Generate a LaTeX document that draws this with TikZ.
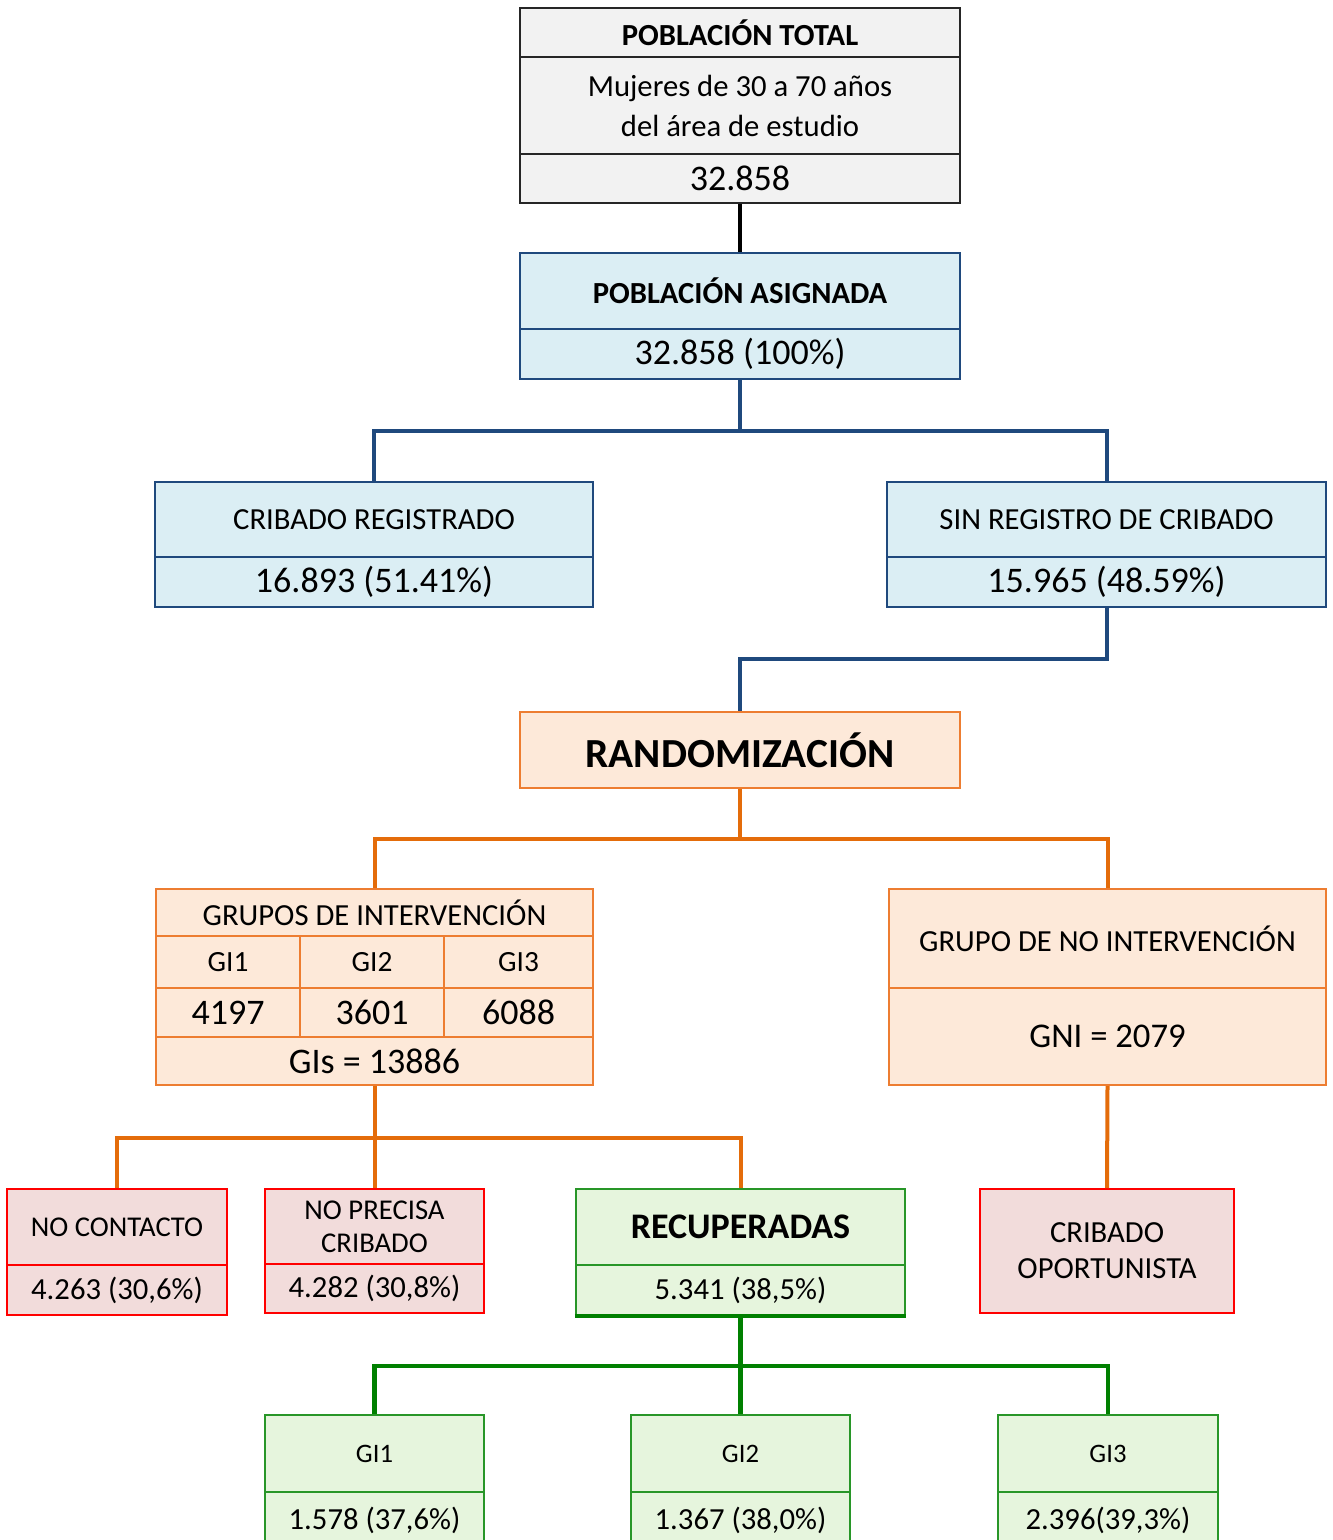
\documentclass[tikz,border=0pt]{standalone}
\usepackage{fontspec}
\setmainfont{Carlito}
\usepackage{tikz}
\usetikzlibrary{positioning, calc}
\newdimen\pxu \pxu=0.75pt
\definecolor{grayfill}{RGB}{242,242,242}
\definecolor{bluefill}{RGB}{219,238,244}
\definecolor{blueline}{RGB}{31,73,125}
\definecolor{orangefill}{RGB}{253,233,217}
\definecolor{orangeline}{RGB}{237,125,49}
\definecolor{orangelink}{RGB}{228,108,10}
\definecolor{redfill}{RGB}{242,220,219}
\definecolor{redline}{RGB}{255,0,0}
\definecolor{greenfill}{RGB}{230,245,221}
\definecolor{greenline}{RGB}{40,150,40}
\definecolor{greenlink}{RGB}{0,128,0}
\tikzset{
    sec_gray/.style={
        rectangle, draw=black!85, line width=1.5pt, fill=grayfill,
        inner sep=0pt, align=center, minimum width=440\pxu, font=\fontsize{23}{30}\selectfont
    },
    sec_blue/.style={
        rectangle, draw=blueline, line width=2pt, fill=bluefill,
        inner sep=0pt, align=center, font=\fontsize{23}{30}\selectfont
    },
    sec_orange/.style={
        rectangle, draw=orangeline, line width=1.6pt, fill=orangefill,
        inner sep=0pt, align=center, font=\fontsize{23}{30}\selectfont
    },
    sec_red/.style={
        rectangle, draw=redline, line width=1.4pt, fill=redfill,
        inner sep=0pt, align=center, font=\fontsize{23}{30}\selectfont
    },
    sec_green/.style={
        rectangle, draw=greenline, line width=1.6pt, fill=greenfill,
        inner sep=0pt, align=center, font=\fontsize{23}{30}\selectfont
    },
    num/.style={font=\fontsize{27}{30}\selectfont},
    link_black/.style={draw=black, line width=3.6pt},
    link_blue/.style={draw=blueline, line width=3pt, line join=miter},
    link_orange/.style={draw=orangelink, line width=3pt, line join=miter},
    link_green/.style={draw=greenlink, line width=3.6pt, line join=miter}
}

\begin{document}
\begin{tikzpicture}[x=0.75pt, y=-0.75pt]
    \useasboundingbox (0,0) rectangle (1333,1540);

    % poblacion total
    \node[sec_gray, minimum height=49\pxu, font=\fontsize{23}{30}\selectfont\bfseries] (tot_h) at (740,32.5) {POBLACIÓN TOTAL};
    \node[sec_gray, minimum height=97\pxu] (tot_d) at (740,105.5) {Mujeres de 30 a 70 años\\del área de estudio};
    \node[sec_gray, num, minimum height=49\pxu] (tot_n) at (740,178.5) {32.858};

    % poblacion asignada
    \node[sec_blue, minimum width=440\pxu, minimum height=76\pxu, font=\fontsize{23}{30}\selectfont\bfseries] (asig_h) at (740,291) {POBLACIÓN ASIGNADA};
    \node[sec_blue, num, minimum width=440\pxu, minimum height=50\pxu] (asig_n) at (740,354) {32.858 (100\%)};

    \node[sec_blue, minimum width=438\pxu, minimum height=75\pxu] (reg_h) at (374,519.5) {CRIBADO REGISTRADO};
    \node[sec_blue, num, minimum width=438\pxu, minimum height=50\pxu] (reg_n) at (374,582) {16.893 (51.41\%)};
    \node[sec_blue, minimum width=439\pxu, minimum height=75\pxu] (sin_h) at (1106.5,519.5) {SIN REGISTRO DE CRIBADO};
    \node[sec_blue, num, minimum width=439\pxu, minimum height=50\pxu] (sin_n) at (1106.5,582) {15.965 (48.59\%)};

    % randomizacion
    \node[sec_orange, minimum width=440\pxu, minimum height=76\pxu, font=\fontsize{31}{34}\selectfont\bfseries] (rand) at (740,750) {RANDOMIZACIÓN};

    % grupos de intervencion
    \node[sec_orange, minimum width=437\pxu, minimum height=47\pxu] (gi_h) at (374.5,912.5) {GRUPOS DE INTERVENCIÓN};
    \node[sec_orange, minimum width=144\pxu, minimum height=52\pxu, font=\fontsize{22}{26}\selectfont] (gi1_l) at (228,962) {GI1};
    \node[sec_orange, minimum width=144\pxu, minimum height=52\pxu, font=\fontsize{22}{26}\selectfont] (gi2_l) at (372,962) {GI2};
    \node[sec_orange, minimum width=149\pxu, minimum height=52\pxu, font=\fontsize{22}{26}\selectfont] (gi3_l) at (518.5,962) {GI3};
    \node[sec_orange, num, minimum width=144\pxu, minimum height=49\pxu] (gi1_n) at (228,1012.5) {4197};
    \node[sec_orange, num, minimum width=144\pxu, minimum height=49\pxu] (gi2_n) at (372,1012.5) {3601};
    \node[sec_orange, num, minimum width=149\pxu, minimum height=49\pxu] (gi3_n) at (518.5,1012.5) {6088};
    \node[sec_orange, num, minimum width=437\pxu, minimum height=48\pxu] (gi_t) at (374.5,1061) {GIs = 13886};

    \node[sec_orange, minimum width=437\pxu, minimum height=99\pxu] (gni_h) at (1107.5,938.5) {GRUPO DE NO INTERVENCIÓN};
    \node[sec_orange, minimum width=437\pxu, minimum height=97\pxu, font=\fontsize{26}{30}\selectfont] (gni_n) at (1107.5,1036.5) {GNI = 2079};

    % resultados
    \node[sec_red, minimum width=220\pxu, minimum height=76\pxu, font=\fontsize{21.5}{26}\selectfont] (noc_h) at (117,1227) {NO CONTACTO};
    \node[sec_red, minimum width=220\pxu, minimum height=50\pxu] (noc_n) at (117,1290) {4.263 (30,6\%)};
    \node[sec_red, minimum width=219\pxu, minimum height=75\pxu, font=\fontsize{21.5}{25}\selectfont] (nop_h) at (374.5,1226.5) {NO PRECISA\\CRIBADO};
    \node[sec_red, minimum width=219\pxu, minimum height=49\pxu] (nop_n) at (374.5,1288.5) {4.282 (30,8\%)};
    \node[sec_green, minimum width=329\pxu, minimum height=76\pxu, font=\fontsize{27}{30}\selectfont\bfseries] (rec_h) at (740.5,1227) {RECUPERADAS};
    \node[sec_green, minimum width=329\pxu, minimum height=50\pxu] (rec_n) at (740.5,1290) {5.341 (38,5\%)};
    \node[sec_red, minimum width=254\pxu, minimum height=124\pxu, font=\fontsize{23}{27}\selectfont] (opo) at (1107,1251) {CRIBADO\\OPORTUNISTA};

    % recuperadas por grupo
    \node[sec_green, minimum width=219\pxu, minimum height=77\pxu, font=\fontsize{20}{24}\selectfont] (b1_h) at (374.5,1453.5) {GI1};
    \node[sec_green, minimum width=219\pxu, minimum height=56\pxu] (b1_n) at (374.5,1520) {1.578 (37,6\%)};
    \node[sec_green, minimum width=219\pxu, minimum height=77\pxu, font=\fontsize{20}{24}\selectfont] (b2_h) at (740.5,1453.5) {GI2};
    \node[sec_green, minimum width=219\pxu, minimum height=56\pxu] (b2_n) at (740.5,1520) {1.367 (38,0\%)};
    \node[sec_green, minimum width=220\pxu, minimum height=77\pxu, font=\fontsize{20}{24}\selectfont] (b3_h) at (1108,1453.5) {GI3};
    \node[sec_green, minimum width=220\pxu, minimum height=56\pxu] (b3_n) at (1108,1520) {2.396(39,3\%)};

    % conectores
    \draw[link_black] (tot_n.south) -- (asig_h.north);
    \draw[link_blue] (asig_n.south) -- ++(0,51) -| (reg_h.north);
    \draw[link_blue] (asig_n.south) -- ++(0,51) -| (sin_h.north);
    \draw[link_blue] (sin_n.south) -- ++(0,51) -| (rand.north);
    \draw[link_orange] (rand.south) -- ++(0,50) -| (gi_h.north);
    \draw[link_orange] (rand.south) -- ++(0,50) -| (gni_h.north);
    \draw[link_orange] (gi_t.south) -- ++(0,52) -| (noc_h.north);
    \draw[link_orange] (gi_t.south) -- ++(0,52) -| (nop_h.north);
    \draw[link_orange] (gi_t.south) -- ++(0,52) -| (rec_h.north);
    \draw[link_orange] (gni_n.south) -- (opo.north);
    \draw[greenlink, line width=2.6pt] (rec_n.south west) -- (rec_n.south east);
    \draw[link_green] (rec_n.south) -- ++(0,50) -| (b1_h.north);
    \draw[link_green] (rec_n.south) -- ++(0,50) -| (b2_h.north);
    \draw[link_green] (rec_n.south) -- ++(0,50) -| (b3_h.north);
\end{tikzpicture}
\end{document}
